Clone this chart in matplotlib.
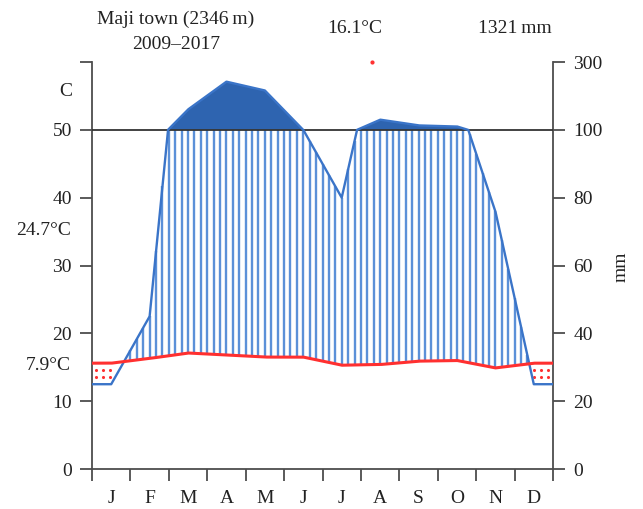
import numpy as np
import matplotlib
matplotlib.use("Agg")
import matplotlib.pyplot as plt

plt.rcParams['font.family'] = ['Liberation Serif', 'DejaVu Serif']

months = ['J', 'F', 'M', 'A', 'M', 'J', 'J', 'A', 'S', 'O', 'N', 'D']
temp = [15.6, 16.3, 17.1, 16.8, 16.5, 16.5, 15.3, 15.4, 15.9, 16.0, 14.9, 15.6]
precip = [25, 45, 160, 242, 216, 100, 80, 130, 113, 110, 76, 25]

left_ticks = [0, 10, 20, 30, 40, 50, 60]
left_labels = ['0', '10', '20', '30', '40', '50', '']
right_labels = ['0', '20', '40', '60', '80', '100', '300']

station = "Maji town (2346\u2009m)"
period = "2009\u20132017"
mean_t = "16.1°C"
total_p = "1321\u2009mm"
max_t = "24.7°C"
min_t = "7.9°C"
stray = (7.3, 299)  # small red dot near the top

BLUE_LINE = '#3a74c8'
BLUE_HATCH = '#5b90d8'
BLUE_FILL = '#2e64b0'
RED = '#ff3030'
AXC = '#4d4d4d'
FS = 14


def scale_p(p):
    p = np.asarray(p, dtype=float)
    return np.where(p <= 100, p / 2.0, 50 + (p - 100) / 20.0)


# month centres, with first/last values held to the edges
xp = np.concatenate([[0], np.arange(12) + 0.5, [12]])
pp = np.array([precip[0]] + precip + [precip[-1]], dtype=float)
tp = np.array([temp[0]] + temp + [temp[-1]], dtype=float)

xf = np.linspace(0, 12, 2401)
pf = np.interp(xf, xp, pp)
ps = scale_p(pf)
tf = np.interp(xf, xp, tp)

fig = plt.figure(figsize=(6.43, 5.09), dpi=100)
ax = fig.add_axes([92 / 643, 40 / 509, 461 / 643, 407 / 509])
ax.set_xlim(0, 12)
ax.set_ylim(0, 60)

# very wet (>100 mm): solid fill
ax.fill_between(xf, 50, ps, where=ps > 50, color=BLUE_FILL, lw=0, zorder=2)

# wet period: vertical hatch lines
xh = np.arange(0, 73) / 6.0
ph = scale_p(np.interp(xh, xp, pp))
th = np.interp(xh, xp, tp)
for x, p, t in zip(xh, ph, th):
    if p > t:
        ax.plot([x, x], [t, min(p, 50)], color=BLUE_HATCH, lw=1.7, zorder=2,
                solid_capstyle='butt')

# dry period: red dots
dx = np.arange(0.1, 12, 0.19)
dy = np.arange(0.3, 50, 1.1)
gx, gy = np.meshgrid(dx, dy)
gp = scale_p(np.interp(gx, xp, pp))
gt = np.interp(gx, xp, tp)
mask = (gy > gp + 0.4) & (gy < gt - 0.5)
ax.scatter(gx[mask], gy[mask], s=5, color=RED, marker='o', lw=0, zorder=3)

ax.axhline(50, color='#333333', lw=1.3, zorder=4)
ax.plot(xf, ps, color=BLUE_LINE, lw=1.7, zorder=5)
ax.plot(xf, tf, color=RED, lw=2.2, zorder=6)
ax.plot([stray[0]], scale_p([stray[1]]), 'o', ms=2, color=RED, zorder=6, clip_on=False)

for s in ['left', 'right', 'bottom']:
    ax.spines[s].set_color(AXC)
    ax.spines[s].set_linewidth(1.3)
ax.spines['top'].set_visible(False)

ax.set_yticks(left_ticks)
ax.set_yticklabels(left_labels)
ax.set_xticks(np.arange(13))
ax.set_xticklabels([])
ax.set_xticks(np.arange(12) + 0.5, minor=True)
ax.set_xticklabels(months, minor=True)
ax.tick_params(axis='x', which='major', direction='out', length=8.5, width=1.3, color=AXC)
ax.tick_params(axis='x', which='minor', length=0, pad=15, labelsize=FS, labelcolor='#222222')
ax.tick_params(axis='y', direction='out', length=8.5, width=1.3, color=AXC,
               pad=6, labelsize=FS, labelcolor='#222222')

ax2 = ax.twinx()
ax2.set_ylim(0, 60)
ax2.set_yticks(left_ticks)
ax2.set_yticklabels(right_labels)
ax2.tick_params(axis='y', direction='out', length=8.5, width=1.3, color=AXC,
                pad=6, labelsize=FS, labelcolor='#222222')
for s in ax2.spines.values():
    s.set_visible(False)

tk = dict(fontsize=FS, color='#222222', clip_on=False)
ax.text(2.18, 66.3, station, ha='center', va='center', **tk)
ax.text(2.18, 62.6, period, ha='center', va='center', **tk)
ax.text(6.85, 65.0, mean_t, ha='center', va='center', **tk)
ax.text(11.0, 65.0, total_p, ha='center', va='center', **tk)
ax.text(-0.52, 55.6, "C", ha='right', va='center', **tk)
ax.text(-0.55, 35.2, max_t, ha='right', va='center', **tk)
ax.text(-0.55, 15.2, min_t, ha='right', va='center', **tk)
ax.text(1.148, 0.497, "mm", ha='center', va='center', rotation=90,
        transform=ax.transAxes, **tk)

fig.savefig("out.png", dpi=100)
